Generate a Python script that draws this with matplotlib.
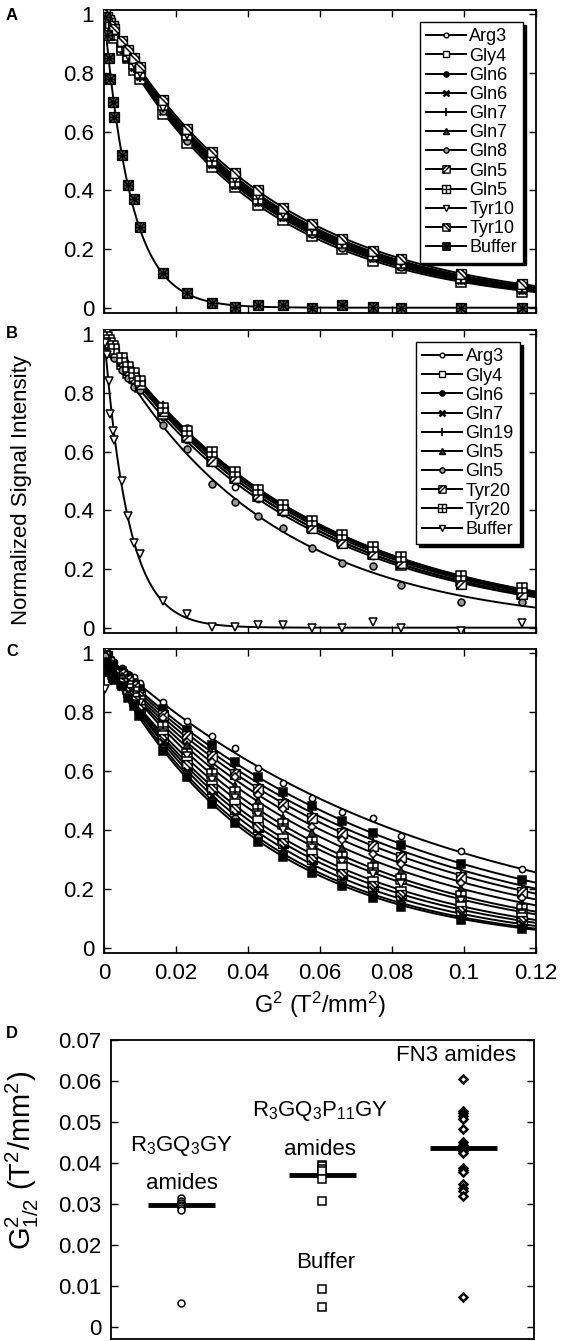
import numpy as np
import matplotlib.pyplot as plt
from matplotlib.path import Path
from matplotlib.lines import Line2D

plt.rcParams['font.family'] = ['Liberation Sans', 'DejaVu Sans']
plt.rcParams['mathtext.fontset'] = 'custom'
plt.rcParams['mathtext.rm'] = 'Liberation Sans'
plt.rcParams['mathtext.it'] = 'Liberation Sans:italic'
plt.rcParams['mathtext.bf'] = 'Liberation Sans:bold'

# G^2 values (T^2/mm^2) of the diffusion series
g2 = [0.0003, 0.0008, 0.0013, 0.0018, 0.0024, 0.0029, 0.0050, 0.0066, 0.0082, 0.0100, 0.0165,
      0.0230, 0.0299, 0.0363, 0.0428, 0.0497, 0.0577, 0.0660, 0.0747, 0.0826, 0.0992, 0.1160]

x_ticks = [0, 0.02, 0.04, 0.06, 0.08, 0.1, 0.12]
x_ticklabels = ['0', '0.02', '0.04', '0.06', '0.08', '0.1', '0.12']
y_ticks = [0, 0.2, 0.4, 0.6, 0.8, 1.0]
y_ticklabels = ['0', '0.2', '0.4', '0.6', '0.8', '1']

# Panel A - R3GQ3GY
a_labels = ['Arg3', 'Gly4', 'Gln6', 'Gln6', 'Gln7', 'Gln7', 'Gln8', 'Gln5', 'Gln5', 'Tyr10', 'Tyr10', 'Buffer']
a_arg3 = [0.99, 0.98, 0.97, 0.96, 0.94, 0.93, 0.89, 0.86, 0.83, 0.79, 0.68, 0.58, 0.50, 0.43, 0.37, 0.31, 0.26, 0.21, 0.17, 0.145, 0.098, 0.065]
a_gly4 = [0.99, 0.98, 0.96, 0.95, 0.94, 0.92, 0.88, 0.85, 0.81, 0.78, 0.66, 0.56, 0.48, 0.41, 0.35, 0.30, 0.245, 0.20, 0.16, 0.135, 0.088, 0.052]
a_gln6a = [1.00, 0.99, 0.97, 0.96, 0.95, 0.94, 0.89, 0.86, 0.83, 0.80, 0.69, 0.59, 0.51, 0.44, 0.38, 0.32, 0.27, 0.22, 0.18, 0.150, 0.100, 0.068]
a_gln6b = [0.99, 0.98, 0.97, 0.96, 0.95, 0.93, 0.89, 0.85, 0.82, 0.79, 0.67, 0.58, 0.49, 0.42, 0.36, 0.31, 0.255, 0.21, 0.17, 0.142, 0.095, 0.062]
a_gln7a = [0.98, 0.97, 0.96, 0.95, 0.94, 0.93, 0.89, 0.86, 0.82, 0.79, 0.68, 0.59, 0.50, 0.43, 0.37, 0.32, 0.262, 0.215, 0.176, 0.148, 0.101, 0.067]
a_gln7b = [1.00, 0.98, 0.97, 0.96, 0.95, 0.94, 0.90, 0.87, 0.84, 0.80, 0.69, 0.60, 0.51, 0.44, 0.38, 0.325, 0.27, 0.225, 0.184, 0.155, 0.106, 0.072]
a_gln8 = [0.99, 0.98, 0.97, 0.95, 0.94, 0.93, 0.88, 0.85, 0.82, 0.79, 0.67, 0.57, 0.49, 0.42, 0.36, 0.31, 0.25, 0.205, 0.168, 0.140, 0.093, 0.060]
a_gln5a = [0.99, 0.99, 0.98, 0.97, 0.96, 0.94, 0.90, 0.87, 0.84, 0.81, 0.70, 0.60, 0.52, 0.45, 0.39, 0.33, 0.275, 0.228, 0.188, 0.158, 0.108, 0.075]
a_gln5b = [1.00, 0.98, 0.97, 0.96, 0.95, 0.93, 0.89, 0.86, 0.83, 0.80, 0.69, 0.59, 0.50, 0.43, 0.37, 0.32, 0.265, 0.22, 0.18, 0.152, 0.103, 0.070]
a_tyr10a = [0.99, 0.98, 0.97, 0.96, 0.95, 0.94, 0.90, 0.86, 0.83, 0.80, 0.68, 0.59, 0.51, 0.44, 0.38, 0.32, 0.268, 0.222, 0.182, 0.152, 0.104, 0.071]
a_tyr10b = [1.00, 0.99, 0.98, 0.97, 0.96, 0.95, 0.91, 0.88, 0.85, 0.82, 0.71, 0.61, 0.53, 0.46, 0.40, 0.34, 0.285, 0.235, 0.195, 0.165, 0.115, 0.082]
a_buffer = [0.99, 0.93, 0.85, 0.78, 0.70, 0.65, 0.52, 0.42, 0.37, 0.275, 0.12, 0.05, 0.016, 0.002, 0.01, 0.01, 0.0, 0.01, 0.004, 0.0, 0.0, 0.0]

# Panel B - R3GQ3P11GY
b_labels = ['Arg3', 'Gly4', 'Gln6', 'Gln7', 'Gln19', 'Gln5', 'Gln5', 'Tyr20', 'Tyr20', 'Buffer']
b_arg3 = [0.98, 0.97, 0.96, 0.95, 0.93, 0.92, 0.89, 0.86, 0.83, 0.81, 0.72, 0.64, 0.56, 0.48, 0.44, 0.39, 0.335, 0.285, 0.245, 0.21, 0.155, 0.11]
b_gly4 = [0.99, 0.98, 0.97, 0.96, 0.95, 0.94, 0.90, 0.87, 0.85, 0.82, 0.73, 0.65, 0.57, 0.51, 0.45, 0.40, 0.345, 0.295, 0.25, 0.215, 0.158, 0.115]
b_gln6 = [1.00, 0.99, 0.98, 0.97, 0.96, 0.95, 0.92, 0.89, 0.87, 0.84, 0.75, 0.68, 0.59, 0.53, 0.47, 0.415, 0.36, 0.31, 0.265, 0.23, 0.172, 0.128]
b_gln7 = [0.99, 0.98, 0.97, 0.97, 0.96, 0.95, 0.91, 0.89, 0.86, 0.83, 0.74, 0.66, 0.58, 0.52, 0.46, 0.41, 0.352, 0.302, 0.258, 0.224, 0.165, 0.122]
b_gln19 = [0.99, 0.99, 0.98, 0.97, 0.96, 0.95, 0.92, 0.89, 0.87, 0.84, 0.75, 0.67, 0.59, 0.52, 0.47, 0.41, 0.358, 0.308, 0.264, 0.228, 0.17, 0.126]
b_gln5a = [1.00, 0.99, 0.98, 0.97, 0.96, 0.95, 0.92, 0.90, 0.87, 0.84, 0.76, 0.67, 0.60, 0.53, 0.47, 0.42, 0.362, 0.312, 0.268, 0.232, 0.174, 0.13]
b_gln5b = [0.99, 0.97, 0.96, 0.95, 0.93, 0.92, 0.88, 0.85, 0.82, 0.81, 0.69, 0.61, 0.49, 0.43, 0.38, 0.34, 0.27, 0.22, 0.21, 0.147, 0.086, 0.086]
b_tyr20a = [0.99, 0.98, 0.97, 0.96, 0.95, 0.94, 0.91, 0.88, 0.85, 0.83, 0.74, 0.65, 0.57, 0.51, 0.45, 0.40, 0.34, 0.29, 0.25, 0.22, 0.15, 0.115]
b_tyr20b = [1.00, 0.99, 0.98, 0.97, 0.96, 0.95, 0.92, 0.89, 0.87, 0.84, 0.75, 0.67, 0.60, 0.53, 0.47, 0.42, 0.365, 0.315, 0.275, 0.24, 0.175, 0.135]
b_buffer = [0.97, 0.93, 0.84, 0.73, 0.67, 0.64, 0.50, 0.38, 0.29, 0.25, 0.09, 0.045, 0.003, 0.003, 0.01, 0.01, 0.0, 0.0, 0.02, 0.0, -0.013, 0.017]

# Panel C - FN3 amides
c_1 = [1.00, 0.99, 0.97, 0.98, 0.96, 0.97, 0.95, 0.93, 0.92, 0.90, 0.835, 0.77, 0.72, 0.68, 0.61, 0.56, 0.51, 0.46, 0.44, 0.38, 0.33, 0.266]
c_2 = [0.99, 0.98, 0.97, 0.95, 0.96, 0.94, 0.94, 0.92, 0.90, 0.88, 0.81, 0.74, 0.69, 0.63, 0.58, 0.53, 0.48, 0.43, 0.39, 0.35, 0.285, 0.23]
c_3 = [1.00, 0.97, 0.96, 0.97, 0.95, 0.93, 0.93, 0.92, 0.89, 0.87, 0.80, 0.74, 0.66, 0.61, 0.56, 0.51, 0.46, 0.41, 0.365, 0.33, 0.26, 0.21]
c_4 = [0.98, 0.99, 0.96, 0.95, 0.94, 0.92, 0.93, 0.91, 0.89, 0.86, 0.79, 0.72, 0.65, 0.59, 0.54, 0.49, 0.44, 0.39, 0.345, 0.31, 0.24, 0.19]
c_5 = [0.99, 0.96, 0.97, 0.94, 0.95, 0.92, 0.92, 0.90, 0.88, 0.86, 0.78, 0.70, 0.63, 0.58, 0.52, 0.47, 0.41, 0.365, 0.32, 0.285, 0.22, 0.17]
c_6 = [0.97, 0.98, 0.95, 0.96, 0.93, 0.94, 0.92, 0.90, 0.87, 0.85, 0.76, 0.69, 0.61, 0.55, 0.50, 0.44, 0.39, 0.34, 0.29, 0.26, 0.20, 0.15]
c_7 = [1.00, 0.98, 0.97, 0.95, 0.94, 0.93, 0.91, 0.89, 0.87, 0.84, 0.75, 0.66, 0.59, 0.53, 0.47, 0.42, 0.36, 0.31, 0.27, 0.235, 0.175, 0.13]
c_8 = [0.88, 0.97, 0.96, 0.94, 0.95, 0.92, 0.91, 0.88, 0.86, 0.83, 0.73, 0.65, 0.57, 0.51, 0.45, 0.40, 0.34, 0.29, 0.25, 0.215, 0.16, 0.115]
c_9 = [0.99, 0.97, 0.95, 0.96, 0.93, 0.92, 0.90, 0.88, 0.85, 0.79, 0.72, 0.63, 0.55, 0.49, 0.43, 0.37, 0.32, 0.27, 0.225, 0.19, 0.14, 0.10]
c_10 = [0.98, 0.96, 0.97, 0.94, 0.92, 0.93, 0.90, 0.87, 0.84, 0.81, 0.71, 0.62, 0.54, 0.47, 0.41, 0.355, 0.30, 0.25, 0.21, 0.18, 0.125, 0.09]
c_11 = [1.00, 0.98, 0.95, 0.96, 0.94, 0.91, 0.89, 0.87, 0.83, 0.80, 0.70, 0.60, 0.52, 0.45, 0.39, 0.34, 0.285, 0.235, 0.195, 0.165, 0.115, 0.08]
c_12 = [0.99, 0.97, 0.96, 0.94, 0.93, 0.92, 0.89, 0.86, 0.83, 0.79, 0.68, 0.59, 0.50, 0.44, 0.375, 0.32, 0.265, 0.22, 0.18, 0.15, 0.10, 0.07]
c_13 = [0.97, 0.96, 0.94, 0.95, 0.92, 0.91, 0.89, 0.85, 0.82, 0.79, 0.67, 0.58, 0.49, 0.425, 0.36, 0.31, 0.255, 0.21, 0.17, 0.14, 0.095, 0.065]

# Panel D - G^2_1/2 per residue (T^2/mm^2)
d_r3gq3gy = [0.0314, 0.0308, 0.0302, 0.0298, 0.0294, 0.0290, 0.0285]
d_r3gq3p11gy = [0.0396, 0.0392, 0.0386, 0.0380, 0.0362, 0.0307]
d_fn3 = [0.0605, 0.0528, 0.0522, 0.0515, 0.0508, 0.0482, 0.0452, 0.0445, 0.0440, 0.0436,
         0.0430, 0.0425, 0.0387, 0.0382, 0.0378, 0.0350, 0.0340, 0.0332, 0.0320]
d_buffer_r3gq3gy = [0.0059]
d_buffer_r3gq3p11gy = [0.0093, 0.0048]
d_buffer_fn3 = [0.0072]
d_ticks = [0, 0.01, 0.02, 0.03, 0.04, 0.05, 0.06, 0.07]
d_ticklabels = ['0', '0.01', '0.02', '0.03', '0.04', '0.05', '0.06', '0.07']


# marker shapes: boxes with inner lines
def box_marker(inner):
    verts = [(-1, -1), (1, -1), (1, 1), (-1, 1), (-1, -1)]
    codes = [Path.MOVETO, Path.LINETO, Path.LINETO, Path.LINETO, Path.CLOSEPOLY]
    for p0, p1 in inner:
        verts += [p0, p1]
        codes += [Path.MOVETO, Path.LINETO]
    return Path(verts, codes)


sq_diag = box_marker([((-1, -1), (1, 1)), ((-1, 0), (0, 1))])
sq_diag2 = box_marker([((-1, 1), (1, -1)), ((0, 1), (1, 0))])
sq_plus = box_marker([((0, -1), (0, 1)), ((-1, 0), (1, 0))])
sq_cross = box_marker([((-1, -1), (1, 1)), ((-1, 1), (1, -1)), ((0, -1), (0, 1)), ((-1, 0), (1, 0))])

st_circle = dict(marker='o', ms=4.5, mfc='white')
st_square = dict(marker='s', ms=6.5, mfc='white')
st_dot = dict(marker='o', ms=5, mfc='black')
st_x = dict(marker='x', ms=6, mew=1.8)
st_bar = dict(marker='|', ms=8, mew=1.2)
st_tri = dict(marker='^', ms=5.5, mfc='0.2')
st_gray = dict(marker='o', ms=5, mfc='0.6')
st_sqdiag = dict(marker=sq_diag, ms=7, mfc='white')
st_sqplus = dict(marker=sq_plus, ms=7, mfc='white')
st_tridown = dict(marker='v', ms=6, mfc='white')
st_sqdiag2 = dict(marker=sq_diag2, ms=7, mfc='white')
st_buffer = dict(marker=sq_cross, ms=7, mfc='0.4')
st_diamond = dict(marker='D', ms=4.5, mfc='white')
st_blacksq = dict(marker='s', ms=6, mfc='black')

xs = np.linspace(0, 0.12, 400)


# single exponential fitted to the points (grid over the decay constant)
def exp_fit(x, y):
    ks = np.linspace(1, 250, 5000)
    e = np.exp(-np.outer(ks, x))
    amp = e @ y / (e * e).sum(axis=1)
    err = ((y - amp[:, None] * e) ** 2).sum(axis=1)
    i = np.argmin(err)
    return amp[i], ks[i]


def draw_decays(ax, series, styles):
    x = np.array(g2)
    for y, st in zip(series, styles):
        y = np.array(y)
        amp, k = exp_fit(x, y)
        ax.plot(xs, amp * np.exp(-k * xs), color='k', lw=1.4, zorder=2)
        kw = dict(mew=1.1)
        kw.update(st)
        ax.plot(x, y, ls='none', color='k', mec='k', zorder=3, **kw)


def frame(ax, show_x):
    ax.set_xlim(0, 0.12)
    ax.set_ylim(-0.018, 1.015)
    ax.set_xticks(x_ticks, x_ticklabels)
    ax.set_yticks(y_ticks, y_ticklabels)
    ax.tick_params(direction='in', top=True, right=True, length=5, width=1,
                   labelsize=16, pad=7, labelbottom=show_x)
    for s in ax.spines.values():
        s.set_linewidth(1.3)


def legend(ax, labels, styles, anchor):
    handles = []
    for st in styles:
        kw = dict(mew=1.0)
        kw.update(st)
        handles.append(Line2D([0], [0], color='k', lw=1.4, mec='k', **kw))
    leg = ax.legend(handles, labels, loc='upper right', bbox_to_anchor=anchor, borderaxespad=0,
                    fontsize=13, labelspacing=0.12, handlelength=2.2, handletextpad=0.2,
                    borderpad=0.35, markerscale=0.75, fancybox=False, framealpha=1,
                    edgecolor='k', shadow={'color': 'k', 'alpha': 1})
    leg.get_frame().set_linewidth(1.0)


fig = plt.figure(figsize=(5.62, 13.41), dpi=100)

# Panel A
a_styles = [st_circle, st_square, st_dot, st_x, st_bar, st_tri, st_gray, st_sqdiag, st_sqplus,
            st_tridown, st_sqdiag2, st_buffer]
ax_a = fig.add_axes([0.185, 0.7666, 0.769, 0.2259])
draw_decays(ax_a, [a_arg3, a_gly4, a_gln6a, a_gln6b, a_gln7a, a_gln7b, a_gln8, a_gln5a, a_gln5b,
                   a_tyr10a, a_tyr10b, a_buffer], a_styles)
frame(ax_a, False)
legend(ax_a, a_labels, a_styles, (0.970, 0.960))

# Panel B
b_styles = [st_circle, st_square, st_dot, st_x, st_bar, st_tri, st_gray, st_sqdiag, st_sqplus, st_tridown]
ax_b = fig.add_axes([0.185, 0.528, 0.769, 0.2259])
draw_decays(ax_b, [b_arg3, b_gly4, b_gln6, b_gln7, b_gln19, b_gln5a, b_gln5b, b_tyr20a, b_tyr20b,
                   b_buffer], b_styles)
frame(ax_b, False)
legend(ax_b, b_labels, b_styles, (0.963, 0.960))

# Panel C
c_styles = [st_circle, st_blacksq, st_bar, st_sqdiag, st_diamond, st_tri, st_sqplus, st_tridown,
            st_square, st_sqdiag2, st_x, st_gray, st_blacksq]
ax_c = fig.add_axes([0.185, 0.2893, 0.769, 0.2267])
draw_decays(ax_c, [c_1, c_2, c_3, c_4, c_5, c_6, c_7, c_8, c_9, c_10, c_11, c_12, c_13], c_styles)
frame(ax_c, True)
ax_c.set_xlabel(r'G$^2$ (T$^2$/mm$^2$)', fontsize=17, labelpad=4)

fig.text(22 / 562, 1 - 490 / 1341, 'Normalized Signal Intensity', rotation=90,
         ha='center', va='center', fontsize=16)

# Panel D
ax_d = fig.add_axes([0.1975, 1 - 1338.5 / 1341, 0.7525, 298.5 / 1341])
groups = [d_r3gq3gy, d_r3gq3p11gy, d_fn3]
buffers = [d_buffer_r3gq3gy, d_buffer_r3gq3p11gy, d_buffer_fn3]
d_marks = [dict(marker='o', ms=5, mew=1.1), dict(marker='s', ms=6, mew=1.1), dict(marker='D', ms=4.5, mew=1.8)]
for i, (vals, buf, mk) in enumerate(zip(groups, buffers, d_marks)):
    pos = i + 0.5
    ax_d.plot([pos] * len(vals), vals, ls='none', mfc='white', mec='k', zorder=3, **mk)
    ax_d.plot([pos] * len(buf), buf, ls='none', mfc='white', mec='k', zorder=3, **mk)
    ax_d.hlines(np.mean(vals), pos - 0.24, pos + 0.24, color='k', lw=3.5, zorder=2)
ax_d.set_xlim(0, 3)
ax_d.set_ylim(-0.0028, 0.07)
ax_d.set_yticks(d_ticks, d_ticklabels)
ax_d.tick_params(axis='y', direction='in', right=True, length=5, width=1, labelsize=16, pad=7)
ax_d.tick_params(axis='x', bottom=False, labelbottom=False)
for s in ax_d.spines.values():
    s.set_linewidth(1.3)

ax_d.text(0.5, 0.0441, r'R$_3$GQ$_3$GY', ha='center', va='center', fontsize=16)
ax_d.text(0.5, 0.0351, 'amides', ha='center', va='center', fontsize=16)
ax_d.text(1.48, 0.0528, r'R$_3$GQ$_3$P$_{11}$GY', ha='center', va='center', fontsize=16)
ax_d.text(1.48, 0.0434, 'amides', ha='center', va='center', fontsize=16)
ax_d.text(2.45, 0.0661, 'FN3 amides', ha='center', va='center', fontsize=16)
ax_d.text(1.52, 0.0157, 'Buffer', ha='center', va='center', fontsize=16)

fig.text(22 / 562, 1 - 1160 / 1341, r'G$^2_{1/2}$ (T$^2$/mm$^2$)', rotation=90,
         ha='center', va='center', fontsize=21)

# panel letters
for letter, ypx in [('A', 15), ('B', 333), ('C', 652), ('D', 1033)]:
    fig.text(12 / 562, 1 - ypx / 1341, letter, ha='center', va='center', fontsize=12, weight='bold')

plt.savefig('out.png', dpi=100)
